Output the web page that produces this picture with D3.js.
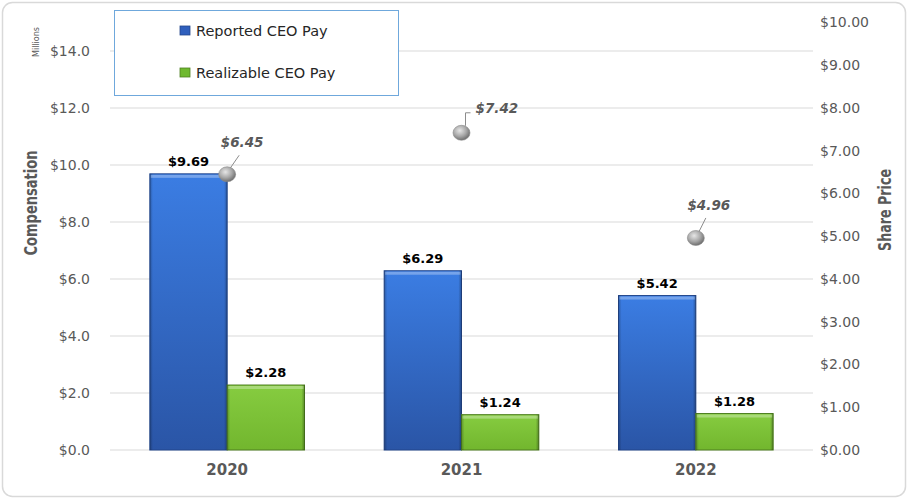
<!DOCTYPE html>
<html>
<head>
<meta charset="utf-8">
<script src="https://cdn.jsdelivr.net/npm/d3@7"></script>
<style>
  body { margin: 0; background: #fff; }
  text { font-family: "DejaVu Sans", Verdana, sans-serif; }
</style>
</head>
<body>
<script>
// chart data
var years = ['2020', '2021', '2022'];
var reportedPay = [9.69, 6.29, 5.42];
var realizablePay = [2.28, 1.24, 1.28];
var sharePrice = [6.45, 7.42, 4.96];
var leftTicks = [0, 2, 4, 6, 8, 10, 12, 14];
var rightTicks = [0, 1, 2, 3, 4, 5, 6, 7, 8, 9, 10];
var seriesNames = ['Reported CEO Pay', 'Realizable CEO Pay'];

var width = 908, height = 499;
var svg = d3.select('body').append('svg')
  .attr('width', width)
  .attr('height', height);

var defs = svg.append('defs');

var blueGrad = defs.append('linearGradient').attr('id', 'blueGrad')
  .attr('x1', 0).attr('y1', 0).attr('x2', 0).attr('y2', 1);
blueGrad.append('stop').attr('offset', '0%').attr('stop-color', '#3b7de3');
blueGrad.append('stop').attr('offset', '100%').attr('stop-color', '#2a55a6');

var greenGrad = defs.append('linearGradient').attr('id', 'greenGrad')
  .attr('x1', 0).attr('y1', 0).attr('x2', 0).attr('y2', 1);
greenGrad.append('stop').attr('offset', '0%').attr('stop-color', '#86cc40');
greenGrad.append('stop').attr('offset', '100%').attr('stop-color', '#72b62e');

var sideShade = defs.append('linearGradient').attr('id', 'sideShade')
  .attr('x1', 0).attr('y1', 0).attr('x2', 1).attr('y2', 0);
sideShade.append('stop').attr('offset', '0%').attr('stop-color', '#000').attr('stop-opacity', 0.25);
sideShade.append('stop').attr('offset', '4%').attr('stop-color', '#000').attr('stop-opacity', 0);
sideShade.append('stop').attr('offset', '96%').attr('stop-color', '#000').attr('stop-opacity', 0);
sideShade.append('stop').attr('offset', '100%').attr('stop-color', '#000').attr('stop-opacity', 0.3);

var ball = defs.append('radialGradient').attr('id', 'ball')
  .attr('cx', '40%').attr('cy', '35%').attr('r', '65%');
ball.append('stop').attr('offset', '0%').attr('stop-color', '#e6e6e6');
ball.append('stop').attr('offset', '60%').attr('stop-color', '#a6a6a6');
ball.append('stop').attr('offset', '100%').attr('stop-color', '#6f6f6f');

// outer frame
svg.append('rect')
  .attr('x', 2.5).attr('y', 2.5)
  .attr('width', width - 5).attr('height', height - 5)
  .attr('rx', 10).attr('ry', 10)
  .attr('fill', '#fff').attr('stroke', '#d9d9d9').attr('stroke-width', 1.5);

var plotLeft = 110, plotRight = 813;

var x = d3.scaleBand().domain(years).range([plotLeft, plotRight])
  .paddingInner(0.34).paddingOuter(0.17);
var xs = d3.scaleBand().domain(seriesNames).range([0, x.bandwidth()]);
var y = d3.scaleLinear().domain([0, 15]).range([450, 22.5]);
var y2 = d3.scaleLinear().domain([0, 10]).range([450, 22.5]);

// gridlines
svg.append('g').selectAll('line').data(leftTicks).enter().append('line')
  .attr('x1', plotLeft).attr('x2', plotRight)
  .attr('y1', function(d) { return y(d); })
  .attr('y2', function(d) { return y(d); })
  .attr('stroke', '#d9d9d9').attr('stroke-width', 1);

// left axis
var leftAxis = svg.append('g').attr('transform', 'translate(' + plotLeft + ',0)')
  .call(d3.axisLeft(y).tickValues(leftTicks).tickSize(0).tickPadding(20)
    .tickFormat(function(d) { return '$' + d3.format('.1f')(d); }));
leftAxis.select('.domain').remove();
leftAxis.selectAll('text').attr('fill', '#595959').style('font-size', '14px')
  .style('font-family', '"DejaVu Sans", sans-serif');

// right axis
var rightAxis = svg.append('g').attr('transform', 'translate(' + plotRight + ',0)')
  .call(d3.axisRight(y2).tickValues(rightTicks).tickSize(0).tickPadding(7)
    .tickFormat(function(d) { return '$' + d3.format('.2f')(d); }));
rightAxis.select('.domain').remove();
rightAxis.selectAll('text').attr('fill', '#595959').style('font-size', '14px')
  .style('font-family', '"DejaVu Sans", sans-serif');

// x axis labels
var xAxis = svg.append('g').attr('transform', 'translate(0,450)')
  .call(d3.axisBottom(x).tickSize(0).tickPadding(14));
xAxis.select('.domain').remove();
xAxis.selectAll('text').attr('fill', '#595959').style('font-size', '15px')
  .style('font-weight', 'bold').style('font-family', '"DejaVu Sans", sans-serif');

// axis titles (narrowed to mimic a condensed face)
svg.append('text')
  .attr('transform', 'translate(37,203) rotate(-90)')
  .attr('text-anchor', 'middle')
  .attr('textLength', 105).attr('lengthAdjust', 'spacingAndGlyphs')
  .style('font-size', '17px').style('font-weight', 'bold')
  .attr('fill', '#595959').text('Compensation');

svg.append('text')
  .attr('transform', 'translate(891,210) rotate(-90)')
  .attr('text-anchor', 'middle')
  .attr('textLength', 82).attr('lengthAdjust', 'spacingAndGlyphs')
  .style('font-size', '17px').style('font-weight', 'bold')
  .attr('fill', '#595959').text('Share Price');

svg.append('text')
  .attr('transform', 'translate(39,42) rotate(-90)')
  .attr('text-anchor', 'middle')
  .attr('textLength', 30).attr('lengthAdjust', 'spacingAndGlyphs')
  .style('font-size', '8px')
  .attr('fill', '#595959').text('Millions');

// bars
var seriesData = [reportedPay, realizablePay];
var fills = ['url(#blueGrad)', 'url(#greenGrad)'];
var strokes = ['#23478c', '#4e7f20'];

seriesData.forEach(function(vals, si) {
  var g = svg.append('g');
  var bars = g.selectAll('g').data(vals).enter().append('g');
  bars.append('rect')
    .attr('x', function(d, i) { return x(years[i]) + xs(seriesNames[si]); })
    .attr('y', function(d) { return y(d); })
    .attr('width', xs.bandwidth())
    .attr('height', function(d) { return y(0) - y(d); })
    .attr('fill', fills[si]).attr('stroke', strokes[si]).attr('stroke-width', 1);
  bars.append('rect')
    .attr('x', function(d, i) { return x(years[i]) + xs(seriesNames[si]); })
    .attr('y', function(d) { return y(d); })
    .attr('width', xs.bandwidth())
    .attr('height', function(d) { return y(0) - y(d); })
    .attr('fill', 'url(#sideShade)');
  // top bevel highlight
  bars.append('rect')
    .attr('x', function(d, i) { return x(years[i]) + xs(seriesNames[si]) + 1; })
    .attr('y', function(d) { return y(d) + 1; })
    .attr('width', xs.bandwidth() - 2)
    .attr('height', 3)
    .attr('fill', '#fff').attr('opacity', 0.3);
  bars.append('text')
    .attr('x', function(d, i) { return x(years[i]) + xs(seriesNames[si]) + xs.bandwidth() / 2; })
    .attr('y', function(d) { return y(d) - 8; })
    .attr('text-anchor', 'middle')
    .style('font-size', '13px').style('font-weight', 'bold')
    .attr('fill', '#000')
    .text(function(d) { return '$' + d3.format('.2f')(d); });
});

// share price points with leader lines
var labelOffsets = [[15, -27], [14, -20], [13, -28]];
var pts = svg.append('g').selectAll('g').data(sharePrice).enter().append('g');

pts.append('path')
  .attr('d', function(d, i) {
    var cx = x(years[i]) + x.bandwidth() / 2, cy = y2(d);
    if (i === 1) {
      return 'M' + (cx + 4) + ',' + (cy - 7) + 'L' + (cx + 4) + ',' + (cy - 20) + 'L' + (cx + 9) + ',' + (cy - 20);
    }
    return 'M' + (cx + 3) + ',' + (cy - 6) + 'L' + (cx + labelOffsets[i][0] - 3) + ',' + (cy + labelOffsets[i][1] + 8);
  })
  .attr('fill', 'none').attr('stroke', '#8c8c8c').attr('stroke-width', 1);

pts.append('ellipse')
  .attr('cx', function(d, i) { return x(years[i]) + x.bandwidth() / 2; })
  .attr('cy', function(d) { return y2(d); })
  .attr('rx', 8.5).attr('ry', 7.5)
  .attr('fill', 'url(#ball)').attr('stroke', '#8a8a8a').attr('stroke-width', 0.6);

pts.append('text')
  .attr('x', function(d, i) {
    var cx = x(years[i]) + x.bandwidth() / 2;
    return i === 1 ? cx + 14 : cx + labelOffsets[i][0];
  })
  .attr('y', function(d, i) { return y2(d) + labelOffsets[i][1]; })
  .attr('text-anchor', function(d, i) { return i === 1 ? 'start' : 'middle'; })
  .style('font-size', '13.5px').style('font-weight', 'bold').style('font-style', 'italic')
  .attr('fill', '#595959')
  .text(function(d) { return '$' + d3.format('.2f')(d); });

// legend
var legend = svg.append('g');
legend.append('rect')
  .attr('x', 114.5).attr('y', 10.5).attr('width', 284).attr('height', 85)
  .attr('fill', '#fff').attr('stroke', '#6fa8dc').attr('stroke-width', 1);
var legendFills = ['#2f5fbd', '#6fb92f'];
var legendItems = legend.selectAll('g').data(seriesNames).enter().append('g')
  .attr('transform', function(d, i) { return 'translate(180,' + (31 + i * 42) + ')'; });
legendItems.append('rect')
  .attr('x', 0).attr('y', -5).attr('width', 10).attr('height', 9)
  .attr('fill', function(d, i) { return legendFills[i]; })
  .attr('stroke', function(d, i) { return strokes[i]; }).attr('stroke-width', 0.8);
legendItems.append('text')
  .attr('x', 16).attr('y', 5)
  .style('font-size', '14.5px').attr('fill', '#262626')
  .text(function(d) { return d; });
</script>
</body>
</html>
